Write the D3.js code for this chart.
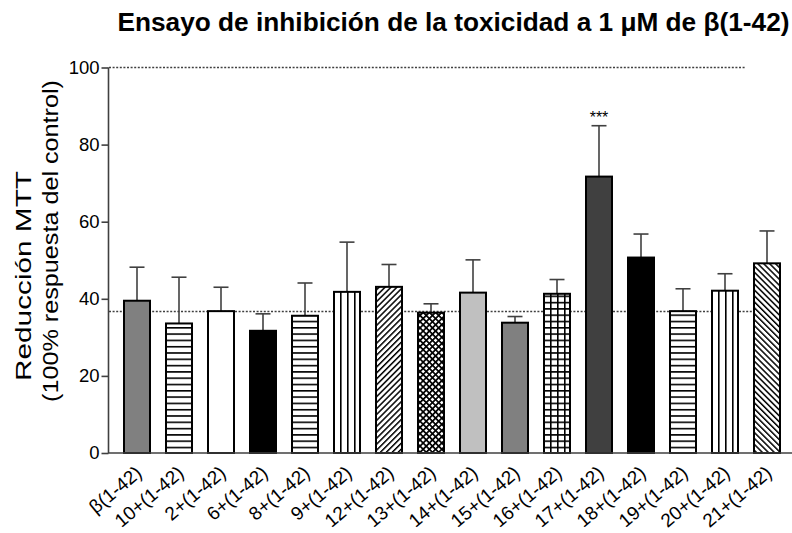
<!DOCTYPE html>
<html>
<head>
<meta charset="utf-8">
<script src="https://cdn.jsdelivr.net/npm/d3@7"></script>
<style>
  html, body { margin: 0; padding: 0; background: #fff; }
  svg { display: block; font-family: "Liberation Sans", Arial, sans-serif; }
</style>
</head>
<body>
<svg id="chart" width="792" height="533"></svg>
<script>
// ---- data ----
const categories = ["β(1-42)", "10+(1-42)", "2+(1-42)", "6+(1-42)", "8+(1-42)", "9+(1-42)",
  "12+(1-42)", "13+(1-42)", "14+(1-42)", "15+(1-42)", "16+(1-42)", "17+(1-42)",
  "18+(1-42)", "19+(1-42)", "20+(1-42)", "21+(1-42)"];
const means = [39.5, 33.6, 36.8, 31.7, 35.6, 41.8, 43.1, 36.4, 41.6, 33.8, 41.3, 71.7, 50.7, 36.8, 42.1, 49.2];
const upperErr = [48.2, 45.6, 43.0, 36.1, 44.1, 54.7, 48.9, 38.7, 50.1, 35.4, 45.0, 84.9, 56.8, 42.6, 46.5, 57.6];
const fills = ["gray", "hlines", "white", "black", "hlines", "vlines", "diagR", "cross",
  "lightgray", "gray", "grid", "darkgray", "black", "hlines", "vlines", "diagL"];
const yTicks = [0, 20, 40, 60, 80, 100];
const refLines = [100, 36.7];
const significance = [{ index: 11, label: "***" }];
const titleText = "Ensayo de inhibición de la toxicidad a 1 μM de β(1-42)";
const yLabelLines = ["Reducción MTT", "(100% respuesta del control)"];

// ---- layout ----
const svg = d3.select("#chart");
const x = d3.scaleBand().domain(categories).range([109, 795]).paddingInner(1/3).paddingOuter(1/3);
const y = d3.scaleLinear().domain([0, 100]).range([453, 67.5]);

const solid = { gray: "#808080", white: "#ffffff", black: "#000000", lightgray: "#c0c0c0", darkgray: "#404040" };

const defs = svg.append("defs");
function makePattern(id, type, x0) {
  const p = defs.append("pattern").attr("id", id).attr("patternUnits", "userSpaceOnUse");
  if (type === "hlines") {
    p.attr("width", 10).attr("height", 6.3).attr("x", 0).attr("y", y(0));
    p.append("rect").attr("width", 10).attr("height", 6.3).attr("fill", "#fff");
    p.append("rect").attr("y", 0).attr("width", 10).attr("height", 1.6).attr("fill", "#000");
  } else if (type === "vlines") {
    p.attr("width", 7).attr("height", 10).attr("x", x0).attr("y", 0);
    p.append("rect").attr("width", 7).attr("height", 10).attr("fill", "#fff");
    p.append("rect").attr("x", 0).attr("width", 1.6).attr("height", 10).attr("fill", "#000");
  } else if (type === "grid") {
    p.attr("width", 7).attr("height", 6.3).attr("x", x0).attr("y", y(0));
    p.append("rect").attr("width", 7).attr("height", 6.3).attr("fill", "#fff");
    p.append("rect").attr("x", 0).attr("width", 1.6).attr("height", 6.3).attr("fill", "#000");
    p.append("rect").attr("y", 0).attr("width", 7).attr("height", 1.6).attr("fill", "#000");
  } else if (type === "diagR" || type === "diagL") {
    p.attr("width", 4.2).attr("height", 10)
      .attr("patternTransform", "rotate(" + (type === "diagR" ? 45 : -45) + ")");
    p.append("rect").attr("width", 4.2).attr("height", 10).attr("fill", "#fff");
    p.append("rect").attr("x", 0).attr("width", 1.5).attr("height", 10).attr("fill", "#000");
  } else if (type === "cross") {
    p.attr("width", 4.4).attr("height", 4.4).attr("patternTransform", "rotate(45)");
    p.append("rect").attr("width", 4.4).attr("height", 4.4).attr("fill", "#fff");
    p.append("rect").attr("x", 0).attr("width", 1.7).attr("height", 4.4).attr("fill", "#000");
    p.append("rect").attr("y", 0).attr("width", 4.4).attr("height", 1.7).attr("fill", "#000");
  }
}
const fillFor = (d, i) => {
  const t = fills[i];
  if (solid[t]) return solid[t];
  const id = "pat" + i;
  makePattern(id, t, x(categories[i]));
  return "url(#" + id + ")";
};

const data = categories.map((c, i) => ({ c, i, v: means[i], e: upperErr[i] }));

// reference dotted lines
svg.append("g").selectAll("line").data(refLines).join("line")
  .attr("x1", 109).attr("x2", (d, i) => i === 0 ? 746 : 781)
  .attr("y1", d => y(d)).attr("y2", d => y(d))
  .attr("stroke", "#404040").attr("stroke-width", 1.3).attr("stroke-dasharray", "2,1.6");

// error bars
const eg = svg.append("g").attr("stroke", "#404040").attr("stroke-width", 1.6);
eg.selectAll("line.v").data(data).join("line").attr("class", "v")
  .attr("x1", d => x(d.c) + x.bandwidth() / 2).attr("x2", d => x(d.c) + x.bandwidth() / 2)
  .attr("y1", d => y(d.v)).attr("y2", d => y(d.e));
eg.selectAll("line.c").data(data).join("line").attr("class", "c")
  .attr("x1", d => x(d.c) + x.bandwidth() / 2 - 7.5).attr("x2", d => x(d.c) + x.bandwidth() / 2 + 7.5)
  .attr("y1", d => y(d.e)).attr("y2", d => y(d.e));

// bars
svg.append("g").selectAll("rect").data(data).join("rect")
  .attr("x", d => x(d.c) + 1).attr("width", x.bandwidth() - 2)
  .attr("y", d => y(d.v)).attr("height", d => y(0) - y(d.v))
  .attr("fill", d => fillFor(d, d.i))
  .attr("stroke", "#000").attr("stroke-width", 2);

// axes
const yAxis = svg.append("g").attr("transform", "translate(108.5,0)")
  .call(d3.axisLeft(y).tickValues(yTicks).tickSize(7).tickPadding(2).tickFormat(d3.format("d")));
yAxis.select(".domain").attr("stroke", "#404040").attr("stroke-width", 1.6).attr("d", "M0," + y(100) + "V" + y(0));
yAxis.selectAll(".tick line").attr("stroke", "#404040").attr("stroke-width", 1.6);
yAxis.selectAll(".tick text").attr("font-size", 18.5).attr("fill", "#000")
  .attr("font-family", "Liberation Sans, Arial, sans-serif");

const xAxis = svg.append("g").attr("transform", "translate(0,453)")
  .call(d3.axisBottom(x).tickSize(0).tickPadding(0));
xAxis.select(".domain").attr("stroke", "#404040").attr("stroke-width", 1.6).attr("d", "M108,0H792");
xAxis.selectAll(".tick text")
  .attr("font-size", 19).attr("fill", "#000").attr("font-family", "Liberation Sans, Arial, sans-serif")
  .attr("text-anchor", "end").attr("dy", 0).attr("y", 0)
  .attr("transform", "translate(6,22) rotate(-40)");

// significance
svg.append("g").selectAll("text").data(significance).join("text")
  .attr("x", d => x(categories[d.index]) + x.bandwidth() / 2)
  .attr("y", d => y(upperErr[d.index]) - 3)
  .attr("text-anchor", "middle").attr("font-size", 16).attr("fill", "#000").text(d => d.label);

// title
svg.append("text").attr("x", 453.5).attr("y", 31).attr("text-anchor", "middle")
  .attr("font-size", 26).attr("font-weight", "bold").attr("fill", "#000")
  .attr("textLength", 672).attr("lengthAdjust", "spacingAndGlyphs").text(titleText);

// y label
const yl = svg.append("g");
yl.append("text").attr("transform", "translate(31,276) rotate(-90)").attr("text-anchor", "middle")
  .attr("font-size", 22).attr("fill", "#000").attr("textLength", 210).attr("lengthAdjust", "spacingAndGlyphs")
  .text(yLabelLines[0]);
yl.append("text").attr("transform", "translate(58,241) rotate(-90)").attr("text-anchor", "middle")
  .attr("font-size", 22).attr("fill", "#000").attr("textLength", 322).attr("lengthAdjust", "spacingAndGlyphs")
  .text(yLabelLines[1]);
</script>
</body>
</html>
